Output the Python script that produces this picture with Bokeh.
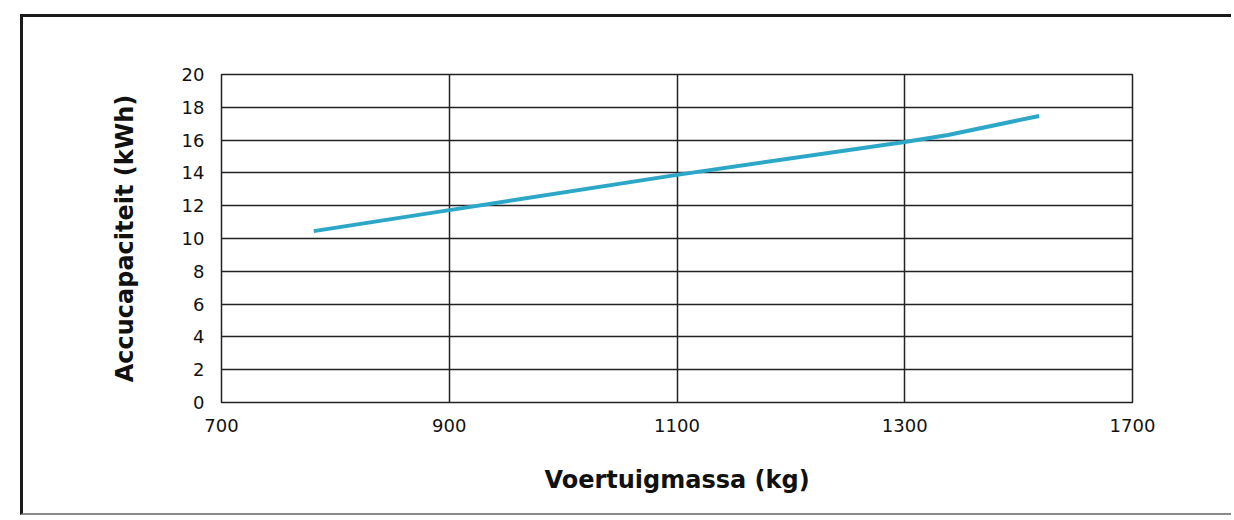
from bokeh.plotting import figure
from bokeh.models import FixedTicker
from bokeh.embed import file_html
from bokeh.resources import INLINE

# data
massa_kg = [781, 900, 1100, 1300, 1338, 1418]
accu_kwh = [10.45, 11.73, 13.88, 15.89, 16.31, 17.47]
x_ticks = [700, 900, 1100, 1300, 1500]
x_tick_labels = {1500: "1700"}
y_ticks = [0, 2, 4, 6, 8, 10, 12, 14, 16, 18, 20]

p = figure(width=1211, height=501, output_backend="svg", toolbar_location=None,
           x_range=(700, 1500), y_range=(0, 20),
           min_border_left=198, min_border_top=57, min_border_right=102, min_border_bottom=116)
p.background_fill_color = "white"
p.border_fill_color = "white"
p.outline_line_color = "#222222"
p.outline_line_width = 1.5
p.styles = {
    "margin-left": "20px",
    "margin-top": "14px",
    "border-left": "3px solid #1a1a1a",
    "border-top": "3px solid #1a1a1a",
    "border-bottom": "2px solid #8a8a8a",
}

p.line(massa_kg, accu_kwh, line_color="#2DA7C8", line_width=4)

p.xaxis.ticker = FixedTicker(ticks=x_ticks)
p.xaxis.major_label_overrides = x_tick_labels
p.yaxis.ticker = FixedTicker(ticks=y_ticks)

for ax in (p.xaxis[0], p.yaxis[0]):
    ax.axis_line_color = None
    ax.major_tick_line_color = None
    ax.minor_tick_line_color = None
    ax.major_tick_out = 0
    ax.major_tick_in = 0
    ax.major_label_text_font = "DejaVu Sans"
    ax.major_label_text_font_size = "18px"
    ax.major_label_text_color = "#111111"
    ax.axis_label_text_font = "DejaVu Sans"
    ax.axis_label_text_font_style = "bold"
    ax.axis_label_text_font_size = "24px"
    ax.axis_label_text_color = "#111111"

p.xaxis.axis_label = "Voertuigmassa (kg)"
p.yaxis.axis_label = "Accucapaciteit (kWh)"
p.xaxis.major_label_standoff = 16
p.yaxis.major_label_standoff = 17
p.xaxis.axis_label_standoff = 31
p.yaxis.axis_label_standoff = 40

p.xgrid.ticker = FixedTicker(ticks=[900, 1100, 1300])
p.ygrid.ticker = FixedTicker(ticks=y_ticks)
for g in (p.xgrid[0], p.ygrid[0]):
    g.grid_line_color = "#222222"
    g.grid_line_width = 1.5

open("out.html", "w").write(file_html(p, INLINE))
